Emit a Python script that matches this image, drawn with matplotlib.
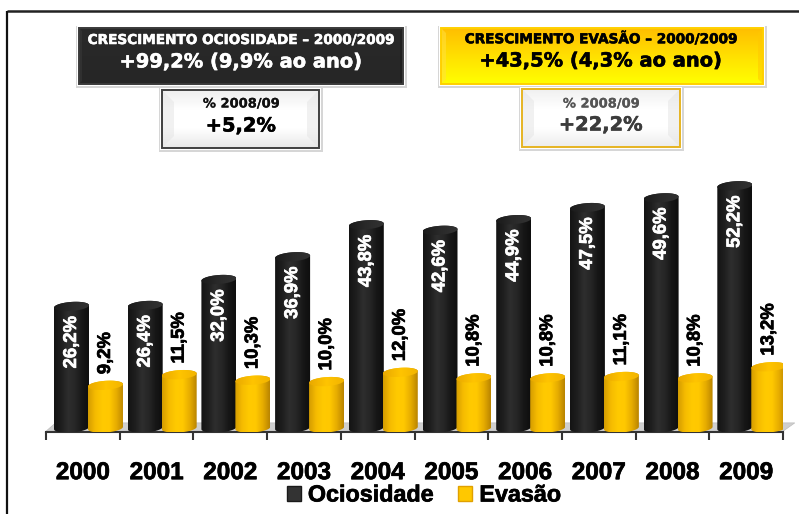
import numpy as np
import matplotlib
matplotlib.use("Agg")
import matplotlib.pyplot as plt
from matplotlib.patches import PathPatch, Polygon, Rectangle, Patch
from matplotlib.path import Path
import matplotlib.patheffects as pe

years = ["2000","2001","2002","2003","2004","2005","2006","2007","2008","2009"]
ociosidade = [26.2,26.4,32.0,36.9,43.8,42.6,44.9,47.5,49.6,52.2]
evasao = [9.2,11.5,10.3,10.0,12.0,10.8,10.8,11.1,10.8,13.2]
series_names = ["Ociosidade","Evasão"]
box_title_1 = "CRESCIMENTO OCIOSIDADE – 2000/2009"
box_value_1 = "+99,2% (9,9% ao ano)"
box_title_2 = "CRESCIMENTO EVASÃO – 2000/2009"
box_value_2 = "+43,5% (4,3% ao ano)"
sub_title = "% 2008/09"
sub_value_1 = "+5,2%"
sub_value_2 = "+22,2%"

plt.rcParams['font.family'] = ['Liberation Sans','DejaVu Sans']
W,H = 799,514
fig = plt.figure(figsize=(W/100,H/100),dpi=100,facecolor='white')

# decoration layer in pixel coordinates
deco = fig.add_axes([0,0,1,1],zorder=0)
deco.set_xlim(0,W); deco.set_ylim(H,0); deco.axis('off')

def grad(ax,colors,extent,clip=None,horizontal=True,zorder=2):
    cmap = matplotlib.colors.LinearSegmentedColormap.from_list('g',colors)
    g = np.linspace(0,1,128)
    g = g[None,:] if horizontal else g[:,None]
    im = ax.imshow(g,cmap=cmap,extent=extent,aspect='auto',zorder=zorder,origin='lower' if ax is not deco else 'upper',interpolation='bilinear')
    if clip is not None:
        im.set_clip_path(clip)
    return im

def box(x0,y0,x1,y1,fill_colors,edge,bevel_light,bevel_dark,b=7,alpha=.55):
    deco.add_patch(Rectangle((x0-3,y0-2),x1-x0+7,y1-y0+6,fc='#d6d6d6',ec='none',zorder=1))
    deco.add_patch(Rectangle((x0-2,y0-2),x1-x0+4,y1-y0+4,fc='white',ec='none',zorder=1.5))
    grad(deco,fill_colors,(x0,x1,y1,y0),horizontal=False)
    ct = dict(ec='none',zorder=3)
    deco.add_patch(Polygon([(x0,y0),(x0+b,y0+b),(x0+b,y1-b),(x0,y1)],fc=bevel_light,alpha=alpha,**ct))
    deco.add_patch(Polygon([(x1,y0),(x1-b,y0+b),(x1-b,y1-b),(x1,y1)],fc=bevel_dark,alpha=alpha,**ct))
    deco.add_patch(Rectangle((x0,y0),x1-x0,y1-y0,fc='none',ec=edge,lw=1.4,zorder=4))

box(79,28,403,84,['#2a2a2a','#262626'],'#3a3a3a','#3a3a3a','#1a1a1a',b=3)
box(441,28,763,84,['#ffbe00','#ffe000','#ffff00'],'#ffd000','#ffe040','#ffc800',b=5)
box(162,90,319,148,['#eeeeee','#ffffff','#ffffff','#e8e8e8'],'#404040','#e4e4e4','#e4e4e4',b=12,alpha=.5)
box(522,89,680,147,['#f0f0f0','#ffffff','#ffffff','#ececec'],'#e6b422','#e4e4e4','#e4e4e4',b=12,alpha=.5)

def t(x,y,s,size,color,lw=.4):
    deco.text(x,y,s,ha='center',va='center',fontsize=size,fontweight='bold',color=color,zorder=5,
              family=['DejaVu Sans'],
              path_effects=[pe.withStroke(linewidth=lw,foreground=color)])
t(241,40,box_title_1,9.8,'white')
t(241,62,box_value_1,14.0,'white')
t(601,39,box_title_2,9.8,'black')
t(601,61,box_value_2,14.0,'black')
t(241,104,sub_title,9.4,'#111111',.1)
t(241,126,sub_value_1,14.0,'black')
t(601,104,sub_title,9.4,'#555555',.1)
t(601,125,sub_value_2,14.0,'#3c3c3c')
deco.plot([7,W],[11,11],color='#222222',lw=1.8,solid_capstyle='butt',zorder=1)
deco.plot([7,7],[11,H],color='#111111',lw=1.6,solid_capstyle='butt',zorder=1)
deco.set_xlim(0,W); deco.set_ylim(H,0)

# chart
x_left,x_right,y_bot,y_top = 46,783,432,12
ax = fig.add_axes([x_left/W,1-y_bot/H,(x_right-x_left)/W,(y_bot-y_top)/H],zorder=2)
ax.patch.set_alpha(0)
px = 4.64
ax.set_xlim(0,len(years))
ax.set_ylim(-4/px,(y_bot-y_top-4)/px)
for s in ['top','left','right']:
    ax.spines[s].set_visible(False)
ax.spines['bottom'].set_color('#333333'); ax.spines['bottom'].set_linewidth(1.5)
ax.set_yticks([])
ax.set_xticks(np.arange(len(years)+1)); ax.set_xticklabels([])
ax.tick_params(axis='x',which='major',length=6,width=1.5,color='#333333',direction='out')
ax.set_xticks(np.arange(len(years))+.5,minor=True)
ax.set_xticklabels(years,minor=True,fontsize=17.5,fontweight='bold',color='black',
                   path_effects=[pe.withStroke(linewidth=.5,foreground='black')])
ax.tick_params(axis='x',which='minor',length=0,pad=21)

fl = Polygon([(0,-.7),(len(years),-.7),(len(years)+.16,1.1),(.13,1.1)],fc='#cfcfcf',ec='#bdbdbd',lw=.5,zorder=1,clip_on=False)
ax.add_patch(fl)

w = 35/73.7
e = 4.5/px
tilt = 1.2/px
offs = (0.346,0.807)
body_c = ['#141414','#1e1e1e','#2e2e2e','#262626','#161616','#0e0e0e']
top_c = ['#1a1a1a','#2a2a2a','#323232']
gold_c = ['#d49c00','#f5bb00','#ffca00','#ffc800','#e6ac00','#b98400']
gold_t = ['#e8a800','#ffc400','#f2b400']

def cyl(xc,v,bc,tc,z):
    xs = lambda a: xc+w/2*np.cos(a)
    ys = lambda yc,a: yc+e*np.sin(a)+tilt*np.cos(a)
    a_b = np.linspace(np.pi,2*np.pi,40)
    a_t = np.linspace(0,np.pi,40)
    a_f = np.linspace(0,2*np.pi,80)
    pts = np.r_[np.c_[xs(a_b),ys(0,a_b)],np.c_[xs(a_t),ys(v,a_t)]]
    clip = PathPatch(Path(np.r_[pts,pts[:1]]),transform=ax.transData)
    grad(ax,bc,(xc-w/2,xc+w/2,-2,v+2),clip=clip,zorder=z)
    top = np.c_[xs(a_f),ys(v,a_f)]
    clip2 = PathPatch(Path(top),transform=ax.transData)
    grad(ax,tc,(xc-w/2,xc+w/2,v-2,v+2),clip=clip2,zorder=z+.1)

for i,(a,b) in enumerate(zip(ociosidade,evasao)):
    cyl(i+offs[0],a,body_c,top_c,3+i*.5)
    cyl(i+offs[1],b,gold_c,gold_t,3.2+i*.5)
    fmt = lambda v: f"{v:.1f}%".replace('.',',')
    ax.annotate(fmt(a),(i+offs[0],a),xytext=(0,-7),textcoords='offset points',rotation=90,ha='center',va='top',
                fontsize=13.3,fontweight='bold',color='white',zorder=20,
                path_effects=[pe.withStroke(linewidth=.5,foreground='white')])
    ax.annotate(fmt(b),(i+offs[1],b),xytext=(0,8),textcoords='offset points',rotation=90,ha='center',va='bottom',
                fontsize=13.3,fontweight='bold',color='black',zorder=20,
                path_effects=[pe.withStroke(linewidth=.5,foreground='black')])
ax.set_xlim(0,len(years))
ax.set_ylim(-4/px,(y_bot-y_top-4)/px)

handles = [Patch(fc='#333333',ec='#1a1a1a',lw=1),Patch(fc='#ffc800',ec='#e0a000',lw=1)]
leg = fig.legend(handles,series_names,loc='center',bbox_to_anchor=(424/W,1-495/H),ncol=2,frameon=False,
                 prop={'size':16.8,'weight':'bold'},handlelength=.6,handleheight=.6,handletextpad=.3,columnspacing=1.05,
                 borderpad=0,borderaxespad=0)
for tx in leg.get_texts():
    tx.set_path_effects([pe.withStroke(linewidth=.5,foreground='black')])

fig.savefig('out.png',dpi=100)
